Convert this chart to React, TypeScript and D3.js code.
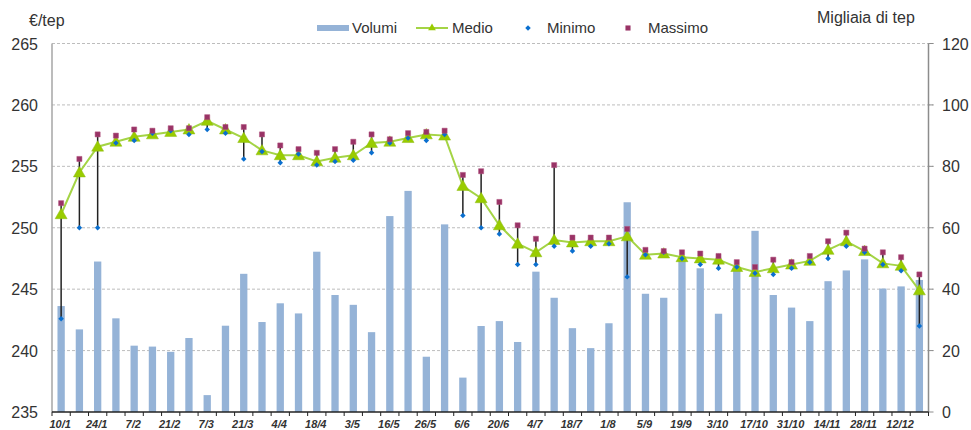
import React from "react";
import * as d3 from "d3";

// settimane: etichetta ogni due settimane
const tickLabels = [
	"10/1", "24/1", "7/2", "21/2", "7/3", "21/3", "4/4", "18/4", "3/5", "16/5", "26/5", "6/6",
	"20/6", "4/7", "18/7", "1/8", "5/9", "19/9", "3/10", "17/10", "31/10", "14/11", "28/11", "12/12",
];

// Migliaia di tep
const volumi = [
	34.5, 26.9, 49, 30.5, 21.6, 21.3, 19.6, 24.1, 5.5, 28.1, 45, 29.3, 35.4, 32.1, 52.2, 38.1,
	34.9, 26, 63.8, 72, 18, 61.1, 11.2, 28, 29.6, 22.8, 45.7, 37.2, 27.3, 20.8, 28.9, 68.3,
	38.5, 37.2, 49.5, 46.8, 32, 46.8, 59, 38.1, 34, 29.6, 42.6, 46.1, 49.7, 40.2, 40.9, 43,
];

// €/tep
const medio = [
	251.1, 254.5, 256.6, 257.0, 257.4, 257.6, 257.8, 258.0, 258.7, 258.0, 257.3, 256.3, 255.9, 255.9, 255.4, 255.7,
	255.9, 256.9, 257.0, 257.3, 257.6, 257.5, 253.4, 252.4, 250.2, 248.7, 248.0, 249.0, 248.8, 248.9, 248.9, 249.3,
	247.8, 247.9, 247.6, 247.5, 247.4, 246.8, 246.4, 246.7, 247.0, 247.3, 248.2, 248.9, 248.1, 247.1, 246.9, 244.9,
];

const minimo = [
	242.6, 250.0, 250.0, 256.9, 257.1, 257.7, 257.9, 257.6, 258.0, 257.7, 255.6, 256.2, 255.3, 256.0, 255.1, 255.4,
	255.5, 256.1, 256.9, 257.3, 257.1, 257.6, 251.0, 250.0, 249.5, 247.0, 247.0, 248.5, 248.1, 248.5, 248.7, 246.0,
	247.8, 248.0, 247.5, 247.0, 246.7, 246.8, 246.3, 246.2, 246.7, 247.2, 247.5, 248.5, 248.0, 247.0, 246.5, 242.0,
];

const massimo = [
	252.0, 255.6, 257.6, 257.5, 258.0, 257.9, 258.1, 258.1, 259.0, 258.2, 258.2, 257.6, 256.7, 256.4, 256.1, 256.4,
	257.0, 257.6, 257.2, 257.7, 257.8, 257.9, 254.3, 254.6, 252.1, 250.2, 249.1, 255.1, 249.2, 249.2, 249.2, 249.9,
	248.2, 248.1, 248.0, 247.9, 247.7, 247.2, 246.8, 247.4, 247.2, 247.7, 248.9, 249.6, 248.3, 248.0, 247.6, 246.2,
];

const leftTicks = [235, 240, 245, 250, 255, 260, 265];
const rightTicks = [0, 20, 40, 60, 80, 100, 120];

const W = 971;
const H = 430;
const left = 52;
const right = 928.5;
const top = 43.5;
const bottom = 412;

const font = "Arial, 'Liberation Sans', sans-serif";
const BAR = "#95b3d7";
const GREEN = "#99cc00";
const LINE = "#a4d445";
const BLUE = "#0a6fcf";
const PURPLE = "#993366";

export default function App() {
	const idx = volumi.map((_, i) => i);
	const x = d3.scaleBand<number>().domain(idx).range([left, right]).padding(0);
	const cx = (i: number) => (x(i) as number) + x.bandwidth() / 2;
	const yL = d3.scaleLinear().domain([235, 265]).range([bottom, top]);
	const yR = d3.scaleLinear().domain([0, 120]).range([bottom, top]);
	const barW = x.bandwidth() * 0.4;

	const line = d3
		.line<number>()
		.x((d, i) => cx(i))
		.y((d) => yL(d));

	const tri = d3.symbol().type(d3.symbolTriangle).size(62)() as string;
	const triSmall = d3.symbol().type(d3.symbolTriangle).size(26)() as string;
	// rombo = quadrato ruotato di 45°
	const diamond = d3.symbol().type(d3.symbolSquare).size(15)() as string;
	const square = d3.symbol().type(d3.symbolSquare).size(26)() as string;

	return (
		<svg
			width={W}
			height={H}
			style={{ position: "absolute", left: 0, top: 0, background: "#fff" }}
			fontFamily={font}
		>
			{/* griglia */}
			{leftTicks.slice(1).map((t) => (
				<line
					key={"g" + t}
					x1={left}
					x2={right + 5}
					y1={yL(t)}
					y2={yL(t)}
					stroke="#bdbdbd"
					strokeDasharray="3,2"
					strokeWidth={1}
				/>
			))}

			{/* volumi */}
			{volumi.map((v, i) => (
				<rect key={"b" + i} x={cx(i) - barW / 2} y={yR(v)} width={barW} height={bottom - yR(v)} fill={BAR} />
			))}

			{/* assi */}
			<line x1={left} x2={left} y1={top} y2={bottom} stroke="#a6a6a6" strokeWidth={1.5} />
			<line x1={right} x2={right} y1={top} y2={bottom} stroke="#8c8c8c" strokeWidth={1.5} />
			{rightTicks.map((t) => (
				<line key={"rt" + t} x1={right} x2={right + 5} y1={yR(t)} y2={yR(t)} stroke="#8c8c8c" />
			))}
			<line x1={left} x2={right} y1={bottom} y2={bottom} stroke="#222" strokeWidth={1.5} />
			{idx.concat([idx.length]).map((i) => {
				const xx = i < idx.length ? (x(i) as number) : right;
				return <line key={"xt" + i} x1={xx} x2={xx} y1={bottom} y2={bottom + 4} stroke="#222" />;
			})}

			{/* etichette assi */}
			{leftTicks.map((t) => (
				<text key={"lt" + t} x={38} y={yL(t) + 6} textAnchor="end" fontSize={16} fill="#333">
					{t}
				</text>
			))}
			{rightTicks.map((t) => (
				<text key={"rl" + t} x={942} y={yR(t) + 6} fontSize={16} fill="#333">
					{t}
				</text>
			))}
			{tickLabels.map((l, k) => (
				<text
					key={"xl" + k}
					x={cx(k * 2) - 1}
					y={428}
					textAnchor="middle"
					fontSize={11}
					fontWeight="bold"
					fontStyle="italic"
					fill="#333"
				>
					{l}
				</text>
			))}
			<text x={29} y={26} fontSize={16} fill="#333">
				€/tep
			</text>
			<text x={817} y={23} fontSize={16} fill="#333">
				Migliaia di tep
			</text>

			{/* min-max */}
			{idx.map((i) => (
				<line
					key={"hl" + i}
					x1={cx(i)}
					x2={cx(i)}
					y1={yL(minimo[i])}
					y2={yL(massimo[i])}
					stroke="#222"
					strokeWidth={1.5}
				/>
			))}

			{/* medio */}
			<path d={line(medio) as string} fill="none" stroke={LINE} strokeWidth={2} />
			{medio.map((v, i) => (
				<path key={"m" + i} d={tri} transform={`translate(${cx(i)},${yL(v) + 1})`} fill={GREEN} stroke="#8dbb12" strokeWidth={0.5} />
			))}
			{minimo.map((v, i) => (
				<path key={"mn" + i} d={diamond} transform={`translate(${cx(i)},${yL(v)}) rotate(45)`} fill={BLUE} />
			))}
			{massimo.map((v, i) => (
				<path key={"mx" + i} d={square} transform={`translate(${cx(i)},${yL(v)})`} fill={PURPLE} stroke="#b0527f" strokeWidth={0.5} />
			))}

			{/* legenda */}
			<g fontSize={15} fill="#333">
				<rect x={317} y={25} width={32} height={6} fill={BAR} />
				<text x={352} y={33}>Volumi</text>
				<line x1={416} x2={448} y1={28} y2={28} stroke={LINE} strokeWidth={2} />
				<path d={triSmall} transform="translate(432,28)" fill={GREEN} />
				<text x={452} y={33}>Medio</text>
				<path d={diamond} transform="translate(528,28) rotate(45)" fill={BLUE} />
				<text x={547} y={33}>Minimo</text>
				<path d={square} transform="translate(628,28)" fill={PURPLE} />
				<text x={648} y={33}>Massimo</text>
			</g>
		</svg>
	);
}
